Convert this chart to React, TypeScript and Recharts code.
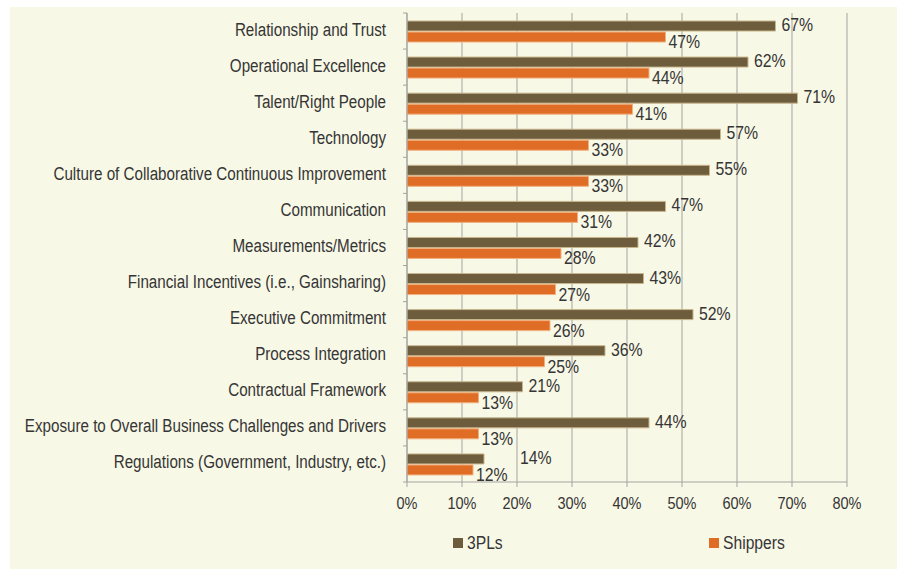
import React from "react";
import { BarChart, Bar, XAxis, YAxis, CartesianGrid, Legend, LabelList } from "recharts";

const categories = [
  "Relationship and Trust",
  "Operational Excellence",
  "Talent/Right People",
  "Technology",
  "Culture of Collaborative Continuous Improvement",
  "Communication",
  "Measurements/Metrics",
  "Financial Incentives (i.e., Gainsharing)",
  "Executive Commitment",
  "Process Integration",
  "Contractual Framework",
  "Exposure to Overall Business Challenges and Drivers",
  "Regulations (Government, Industry, etc.)",
];
const pl3Values = [67, 62, 71, 57, 55, 47, 42, 43, 52, 36, 21, 44, 14];
const shipperValues = [47, 44, 41, 33, 33, 31, 28, 27, 26, 25, 13, 13, 12];
const xTicks = [0, 10, 20, 30, 40, 50, 60, 70, 80];
const seriesNames = ["3PLs", "Shippers"];

const data = categories.map((name, i) => ({
  name,
  pl3: pl3Values[i],
  shippers: shipperValues[i],
}));

const FONT = '"Liberation Sans", Arial, sans-serif';
const TEXT = "#353535";
const GRID = "#a3a3a3";
const BROWN = "#6d5d3d";
const ORANGE = "#e06d26";
const BG = "#f8f8e6";

const CH_W = 887;
const CH_H = 562;
const MARGIN = { top: 6, right: 50, left: 0, bottom: 16 };
const X_AXIS_H = 51;
const LEGEND_H = 20;
const Y_AXIS_W = 397;
const band = (CH_H - MARGIN.top - MARGIN.bottom - X_AXIS_H - LEGEND_H) / categories.length;

const CatTick = (props: any) => {
  const { x, y, payload, index } = props;
  const axisX = MARGIN.left + Y_AXIS_W;
  return (
    <g>
      <text
        transform={`translate(${x} ${y + 4.5}) scale(0.8 1)`}
        textAnchor="end"
        fill={TEXT}
        fontSize={19}
        fontFamily={FONT}
      >
        {payload.value}
      </text>
      <line x1={axisX - 4} x2={axisX} y1={y - band / 2} y2={y - band / 2} stroke={GRID} />
      {index === categories.length - 1 && (
        <line x1={axisX - 4} x2={axisX} y1={y + band / 2} y2={y + band / 2} stroke={GRID} />
      )}
    </g>
  );
};

const PctTick = (props: any) => {
  const { x, y, payload } = props;
  return (
    <text
      transform={`translate(${x} ${y}) scale(0.88 1)`}
      textAnchor="middle"
      fill={TEXT}
      fontSize={16.5}
      fontFamily={FONT}
    >
      {payload.value}%
    </text>
  );
};

const BrownLabel = (props: any) => {
  const { x, y, width, height, value, index } = props;
  const extra = index === categories.length - 1 ? 30 : 0;
  return (
    <text
      transform={`translate(${x + width + 6 + extra} ${y + height / 2 + 5}) scale(0.88 1)`}
      fill={TEXT}
      fontSize={18}
      fontFamily={FONT}
    >
      {value}%
    </text>
  );
};

const OrangeLabel = (props: any) => {
  const { x, y, width, height, value } = props;
  return (
    <text
      transform={`translate(${x + width + 3} ${y + height / 2 + 11}) scale(0.88 1)`}
      fill={TEXT}
      fontSize={18}
      fontFamily={FONT}
    >
      {value}%
    </text>
  );
};

const LegendContent = () => {
  const items = [
    { name: seriesNames[0], color: BROWN, left: 443 },
    { name: seriesNames[1], color: ORANGE, left: 699 },
  ];
  return (
    <div style={{ position: "relative", width: CH_W, height: LEGEND_H }}>
      {items.map((it) => (
        <div
          key={it.name}
          style={{
            position: "absolute",
            left: it.left,
            top: 0,
            height: LEGEND_H,
            display: "flex",
            alignItems: "center",
            fontFamily: FONT,
            fontSize: 18,
            color: TEXT,
          }}
        >
          <span style={{ display: "inline-block", width: 10, height: 10, background: it.color, marginRight: 4 }} />
          <span style={{ display: "inline-block", transform: "scaleX(0.87)", transformOrigin: "left center" }}>
            {it.name}
          </span>
        </div>
      ))}
    </div>
  );
};

export default function App() {
  return (
    <div style={{ position: "absolute", left: 0, top: 0, width: 901, height: 569, background: "#ffffff" }}>
      <div style={{ position: "absolute", left: 10, top: 7, width: CH_W, height: CH_H, background: BG }}>
        <BarChart
          layout="vertical"
          width={CH_W}
          height={CH_H}
          data={data}
          margin={MARGIN}
          barSize={10}
          barGap={1}
          style={{ fontFamily: FONT }}
        >
          <CartesianGrid horizontal={false} vertical={true} stroke={GRID} />
          <XAxis
            type="number"
            domain={[0, 80]}
            ticks={xTicks}
            height={X_AXIS_H}
            stroke={GRID}
            tickSize={5}
            tickMargin={22}
            tick={<PctTick />}
            interval={0}
            allowDataOverflow
          />
          <YAxis
            type="category"
            dataKey="name"
            width={Y_AXIS_W}
            stroke={GRID}
            tickLine={false}
            tickSize={0}
            tickMargin={21}
            interval={0}
            tick={<CatTick />}
          />
          <Legend verticalAlign="bottom" height={LEGEND_H} wrapperStyle={{ left: 0, width: CH_W }} content={<LegendContent />} />
          <Bar dataKey="pl3" name={seriesNames[0]} fill={BROWN} stroke="#c8b58c" strokeWidth={1} isAnimationActive={false}>
            <LabelList dataKey="pl3" content={<BrownLabel />} />
          </Bar>
          <Bar dataKey="shippers" name={seriesNames[1]} fill={ORANGE} stroke="#f2b07f" strokeWidth={1} isAnimationActive={false}>
            <LabelList dataKey="shippers" content={<OrangeLabel />} />
          </Bar>
        </BarChart>
      </div>
    </div>
  );
}
